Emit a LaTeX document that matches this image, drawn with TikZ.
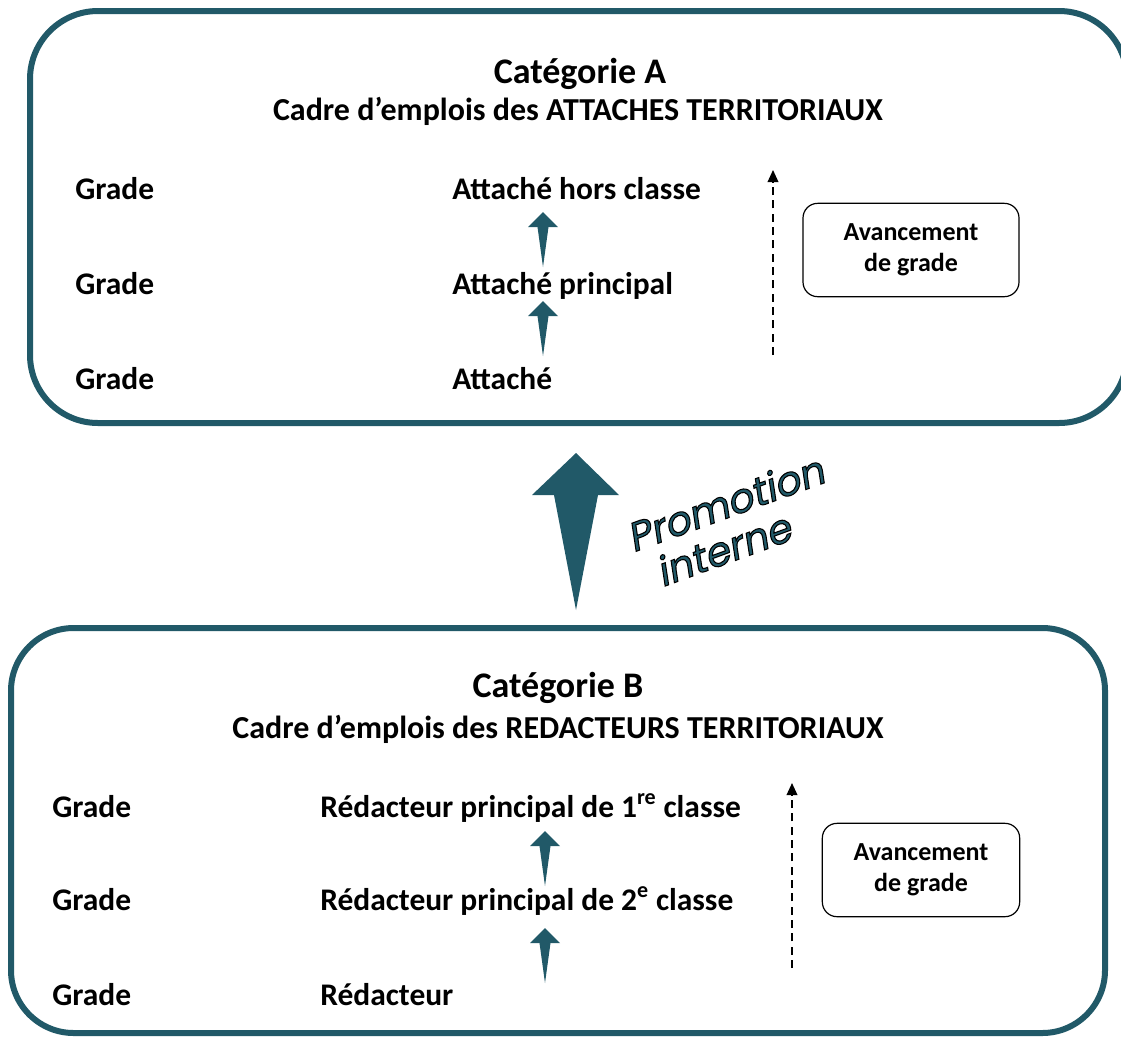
\documentclass[tikz,border=0pt]{standalone}
\usepackage{fontspec}
\setmainfont{Carlito}
\newfontfamily\promofont{Poppins}[FakeSlant=0.2]
\usetikzlibrary{arrows.meta}
\definecolor{boxteal}{RGB}{33,89,104}
\tikzset{
  catbox/.style={draw=boxteal, line width=4.5pt},
  titletext/.style={anchor=base, inner sep=0pt, font=\bfseries\fontsize{27}{32}\selectfont},
  subtext/.style={anchor=base, inner sep=0pt, font=\bfseries\fontsize{24}{28}\selectfont},
  gradetext/.style={anchor=base west, inner sep=0pt, font=\bfseries\fontsize{23.6}{28}\selectfont},
  avbox/.style={draw, line width=0.9pt, rounded corners=11pt, align=center,
    minimum width=162pt, minimum height=70pt, font=\bfseries\fontsize{19.5}{23}\selectfont},
  avarrow/.style={line width=1.1pt, dash pattern=on 6pt off 4pt, -{Triangle[length=9pt,width=8pt]}},
  promo/.style={rotate=20, inner sep=0pt, font=\promofont\fontsize{30}{34}\selectfont},
  steparrow/.pic={\fill[boxteal] (0,0) -- (15,15) -- (5.5,15) -- (0,55) -- (-5.5,15) -- (-15,15) -- cycle;}
}
\newcommand{\outlined}[1]{\color{boxteal}\special{pdf:literal direct 0 0 0 RG 0.8 w 2 Tr}#1\special{pdf:literal direct 0 Tr}}
\begin{document}
\begin{tikzpicture}[x=0.75pt,y=-0.75pt]
  \useasboundingbox (0,0) rectangle (1121,1036);
  % categorie A
  \draw[catbox, rounded corners=51pt] (30,11) rectangle (1127,423);
  \node[titletext] (titleA) at (580,83) {Catégorie A};
  \node[subtext] (subA) at (578,120) {Cadre d’emplois des ATTACHES TERRITORIAUX};
  \node[gradetext] (gA1) at (75,199) {Grade};
  \node[gradetext] (gA2) at (75,294) {Grade};
  \node[gradetext] (gA3) at (75,389) {Grade};
  \node[gradetext] (rA1) at (452,199) {Attaché hors classe};
  \node[gradetext] (rA2) at (452,294) {Attaché principal};
  \node[gradetext] (rA3) at (452,389) {Attaché};
  \pic at (543,212) {steparrow};
  \pic at (543,301) {steparrow};
  \coordinate (dA1) at (773,355);
  \coordinate (dA2) at (773,170);
  \draw[avarrow] (dA1) -- (dA2);
  \node[avbox] (avA) at (911,250) {Avancement\\de grade};
  % promotion interne
  \fill[boxteal] (576,453) -- (619,495) -- (598,495) -- (576,610) -- (554,495) -- (532,495) -- cycle;
  \node[promo] (promo1) at (725,503) {\outlined{Promotion}};
  \node[promo] (promo2) at (723,549) {\outlined{interne}};
  % categorie B
  \draw[catbox, rounded corners=47pt] (11,628) rectangle (1105,1033);
  \node[titletext] (titleB) at (558,697) {Catégorie B};
  \node[subtext] (subB) at (558,738) {Cadre d’emplois des REDACTEURS TERRITORIAUX};
  \node[gradetext] (gB1) at (52,817) {Grade};
  \node[gradetext] (gB2) at (52,910) {Grade};
  \node[gradetext] (gB3) at (52,1005) {Grade};
  \node[gradetext] (rB1) at (320,817) {Rédacteur principal de 1\textsuperscript{re} classe};
  \node[gradetext] (rB2) at (320,910) {Rédacteur principal de 2\textsuperscript{e} classe};
  \node[gradetext] (rB3) at (320,1005) {Rédacteur};
  \pic at (545,831) {steparrow};
  \pic at (545,928) {steparrow};
  \coordinate (dB1) at (792,968);
  \coordinate (dB2) at (792,783);
  \draw[avarrow] (dB1) -- (dB2);
  \node[avbox, minimum width=148pt] (avB) at (921,870) {Avancement\\de grade};
\end{tikzpicture}
\end{document}
